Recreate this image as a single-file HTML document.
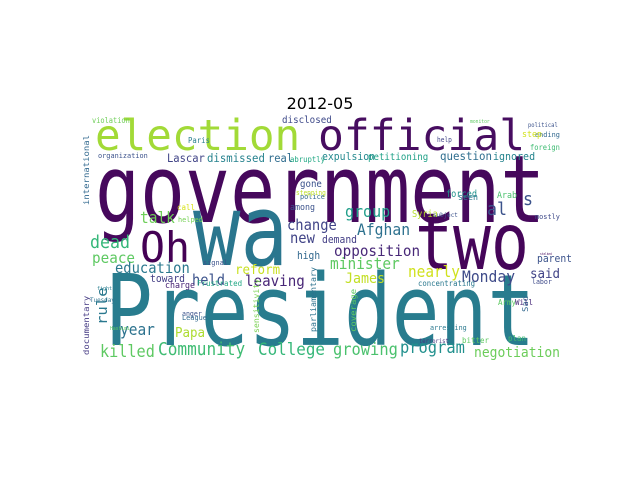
<!DOCTYPE html>
<html><head><meta charset="utf-8"><style>
html,body{margin:0;padding:0;background:#fff;width:640px;height:480px;overflow:hidden}
svg{display:block}
.t{font-family:"DejaVu Sans","Liberation Sans",sans-serif}
#cloud text{font-family:"DejaVu Sans Mono","Liberation Mono",monospace}
</style></head><body>
<svg id="chart" width="640" height="480" viewBox="0 0 640 480">
<text class="t" x="320" y="109" text-anchor="middle" font-size="16" fill="#000">2012-05</text>
<g id="cloud"></g>
</svg>
<script>
const words = ["government","President","election","official","wa","two","Oh","Community","College","killed","growing","program","negotiation","Afghan","group","al","opposition","minister","nearly","Monday","James","said","talk","change","dead","peace","education","held","reform","leaving","rule","year","Papa","high","new","mostly","Lascar","dismissed","expulsion","petitioning","question","ignored","Paris","international","Syria","forced","s","concentrating","coverage","documentary","parliamentary","sensitivity","political","foreign","ending","step","violation","disclosed","organization","real","abruptly","police","among","stepping","call","helped","anger","League","Hashimi","Tuesday","fight","toward","charge","signal","Frustrated","arresting","plan","Sad","Army","bitter","terrorist","labor","Arab","seen","subject","help","monitor","Will","parent","stalked","demand","gone"];
const xs = [95,105,95,318,193,415,140,158,258,100,333,400,474,357,345,487,334,330,408,462,345,530,140,287,90,92,115,192,235,245,107,120,175,297,290,535,167,207,322,368,440,493,188,89,412,446,523,418,356,89,316,259,528,530,535,522,92,282,98,268,290,300,290,296,177,178,182,182,110,90,97,150,165,203,197,430,508,528,498,462,419,532,497,458,433,437,470,515,537,540,322,300];
const ys = [222,345,150,150,265,269,262,355,355,357,355,353,357,235,217,215,256,269,277,282,283,278,223,230,248,263,273,285,274,286,325,335,337,259,243,219,162,162,160,160,160,160,143,205,217,197,205,286,332,355,332,333,127,150,137,137,123,123,158,162,162,199,210,195,210,222,316,320,330,302,290,282,288,265,286,330,341,312,305,343,343,284,198,200,217,142,123,305,262,255,243,187];
const widths = [450,430,205,207,95,114,50,87,67,55,65,65,86,53,45,20,86,70,52,53,40,30,35,50,40,43,75,33,45,60,35,35,30,23,25,25,38,58,53,60,52,42,22,65,26,31,10,57,40,55,60,50,30,30,25,20,38,50,50,25,35,25,25,30,18,25,20,25,20,25,15,35,30,25,45,37,18,15,18,27,30,20,20,20,25,15,20,18,35,12,35,22];
const colors = ["#46085c","#287c8e","#a2da37","#470d60","#2a768e","#450559","#440154","#3fbc73","#35b779","#5ec962","#4ac16d","#21908d","#6ccd5a","#2d718e","#1f9e89","#3b528b","#482878","#5ec962","#d0e11c","#3e4a89","#c2df23","#414487","#6ece58","#414487","#35b779","#5ec962","#2a788e","#3b528b","#c8e020","#482677","#2a788e","#2c728e","#addc30","#31688e","#414487","#3e4a89","#414487","#26828e","#23898e","#1fa187","#2e6e8e","#25848e","#287d8e","#31688e","#b5de2b","#20928c","#3b528b","#2a788e","#5ec962","#443983","#2c728e","#7ad151","#3b528b","#3fbc73","#31688e","#d2e21b","#6ece58","#3e4989","#3b528b","#2f6c8e","#22a884","#31688e","#3b528b","#bddf26","#d8e219","#75d054","#3b528b","#31688e","#5ec962","#2c728e","#287d8e","#433e85","#482475","#3b528b","#22a884","#2a788e","#3fbc73","#31688e","#5ec962","#5ec962","#46337e","#3e4a89","#4ac16d","#2a788e","#3b528b","#414487","#5ec962","#482878","#3b528b","#46085c","#433e85","#3b528b"];
const rots = [0,0,0,0,0,0,0,0,0,0,0,0,0,0,0,0,0,0,0,0,0,0,0,0,0,0,0,0,0,0,-90,0,0,0,0,0,0,0,0,0,0,0,0,-90,0,0,0,0,-90,-90,-90,-90,0,0,0,0,0,0,0,0,0,0,0,0,0,0,0,0,0,0,0,0,0,0,0,0,0,-90,0,0,0,0,0,0,0,0,0,0,0,0,0,0];
const g = document.getElementById('cloud');
const NS = 'http://www.w3.org/2000/svg';
for (let i = 0; i < words.length; i++) {
  const t = document.createElementNS(NS, 'text');
  const fs = widths[i] / (0.602 * words[i].length);
  const sy = fs > 60 ? 1.25 : (fs > 30 ? 1.0 : 1.08);
  t.setAttribute('x', 0);
  t.setAttribute('y', 0);
  t.setAttribute('font-size', fs.toFixed(1));
  t.setAttribute('fill', colors[i]);
  t.setAttribute('transform', 'translate(' + xs[i] + ' ' + ys[i] + ') scale(1 ' + sy + ') rotate(' + rots[i] + ')');
  t.textContent = words[i];
  
  
  g.appendChild(t);
}
</script>
</body></html>
